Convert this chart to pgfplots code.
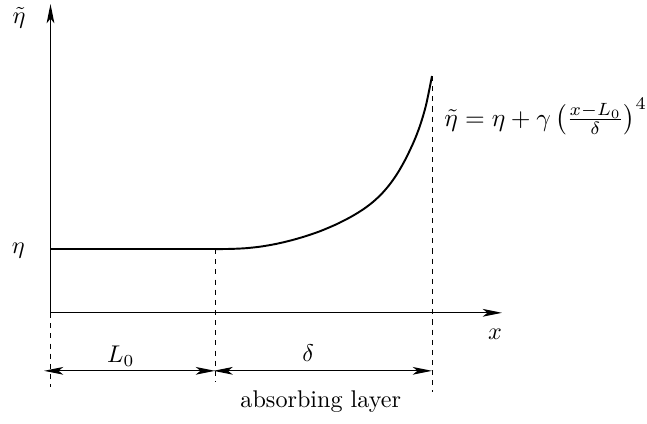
\documentclass[border=0pt]{standalone}
\usepackage{pgfplots}
\usepackage{graphicx}
\pgfplotsset{compat=1.18}
\usetikzlibrary{arrows.meta}
\tikzset{>={Stealth[length=8pt,width=3.2pt,inset=2pt]}}
\begin{document}
\begin{tikzpicture}
\begin{axis}[scale only axis, width=267.9pt, height=175.2pt,
  xmin=0, xmax=647, ymin=0, ymax=423, y dir=reverse,
  hide axis, clip=false]
\path (axis cs:0,0) rectangle (axis cs:647,423);
% axes
\addplot[line width=0.45pt, ->] coordinates {(50.5,313) (50.5,4)};
\addplot[line width=0.45pt, ->] coordinates {(50.5,312.7) (502,312.7)};
% eta line and curve
\addplot[line width=0.8pt] coordinates {(50.5,249) (215,249)};
\addplot[line width=0.8pt, smooth] coordinates {
(215,249) (230,248.85) (245,248.18) (260,246.6) (275,244.05) (290,240.6)
(305,236.3) (320,231.15) (335,224.85) (342.5,221.2) (350,217.3) (358,212.6)
(366,207.3) (374,201.0) (382,193.4) (390,184.0) (398,172.4) (406,158.2)
(414,141.2) (420,125.6) (426,105.2) (432,76)};
% dashed guides
\addplot[line width=0.4pt, dash pattern=on 2.1pt off 2.1pt] coordinates {(50.5,313) (50.5,387)};
\addplot[line width=0.4pt, dash pattern=on 2.1pt off 2.1pt] coordinates {(215,249) (215,382)};
\addplot[line width=0.4pt, dash pattern=on 2.1pt off 2.1pt] coordinates {(432,76) (432,392)};
% dimension arrows
\addplot[line width=0.45pt, <->] coordinates {(44,370.7) (215,370.7)};
\addplot[line width=0.45pt, <->] coordinates {(213.5,370.7) (432,370.7)};
% labels
\node[inner sep=0pt] at (axis cs:19,18) {$\tilde\eta$};
\node[inner sep=0pt] at (axis cs:18.3,251) {$\eta$};
\node[inner sep=0pt] at (axis cs:495,334.5) {$x$};
\node[inner sep=0pt] at (axis cs:120.8,356) {$L_0$};
\node[inner sep=0pt] at (axis cs:308.3,353.3) {$\delta$};
\node[inner sep=0pt] at (axis cs:320.8,401.7) {absorbing layer};
\node[inner sep=0pt, anchor=base west] at (axis cs:444,126) {\scalebox{1.05}{$\tilde\eta = \eta + \gamma\left(\frac{x-L_0}{\delta}\right)^4$}};
\end{axis}
\end{tikzpicture}
\end{document}
